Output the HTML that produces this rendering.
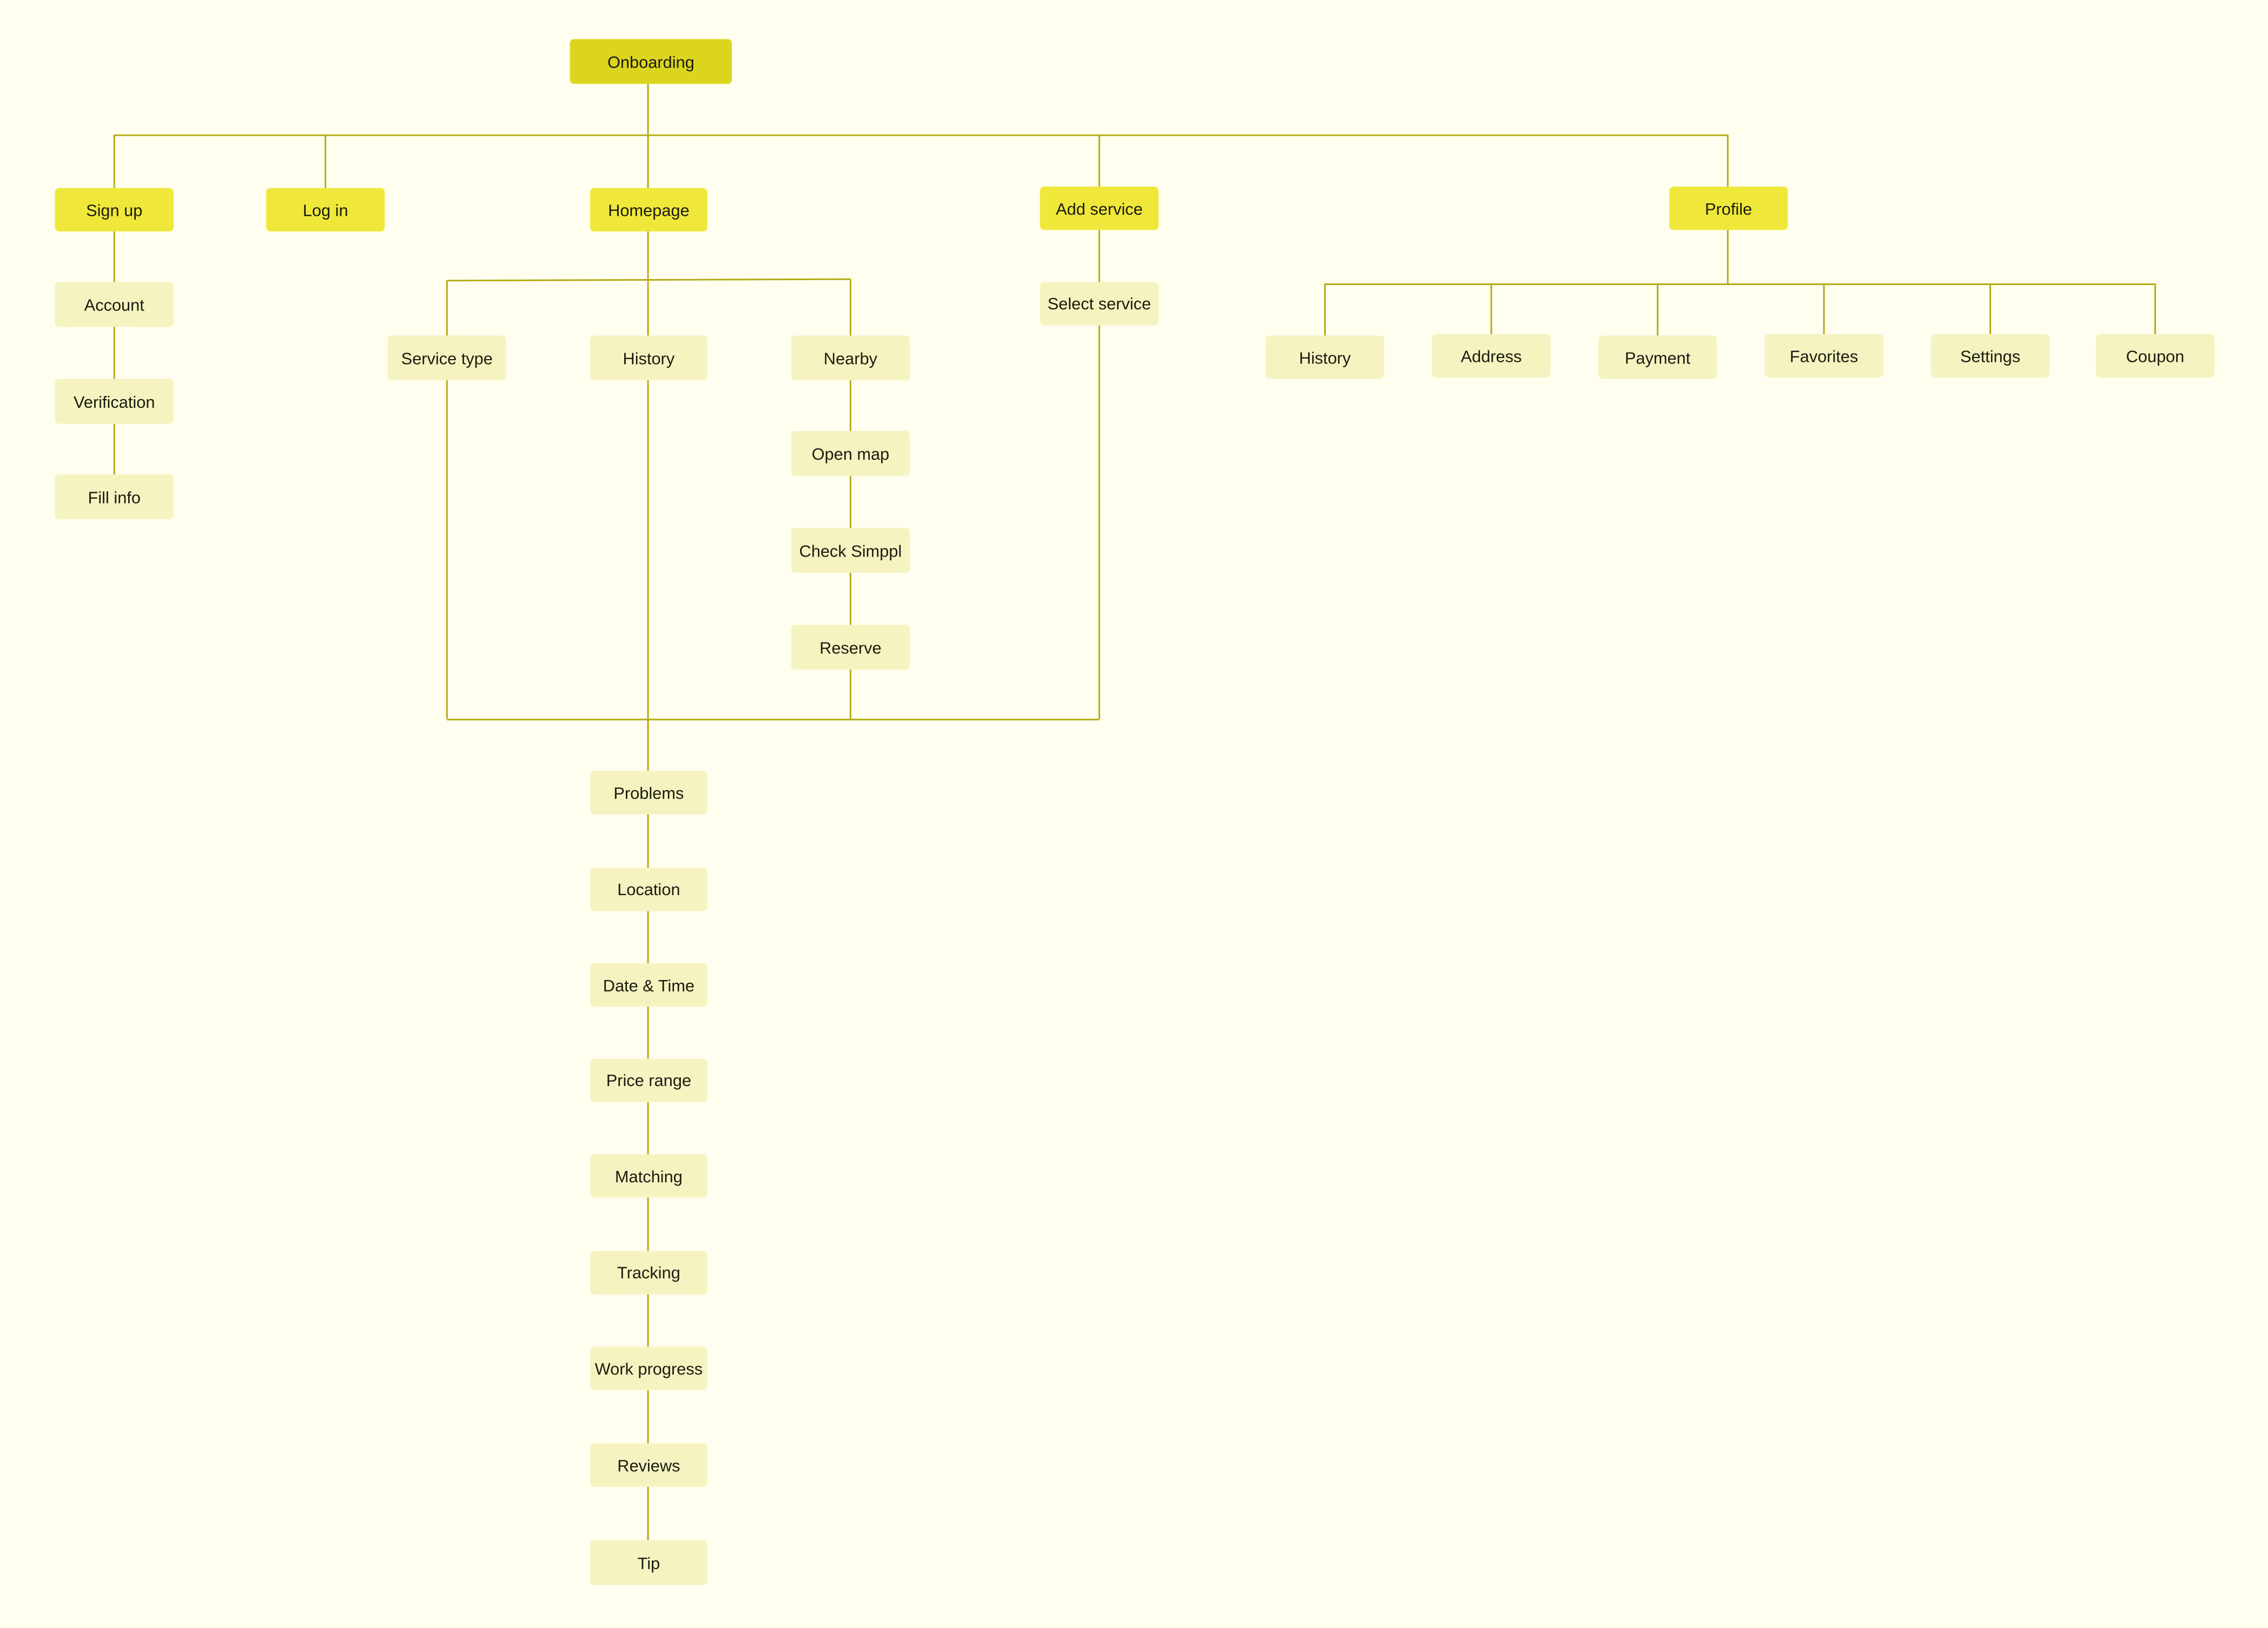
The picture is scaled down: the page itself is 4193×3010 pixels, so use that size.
<!DOCTYPE html>
<html><head><meta charset="utf-8"><style>
html,body{margin:0;padding:0;background:#fffeef;}
svg{display:block}
text{font-family:"Liberation Sans",sans-serif;font-size:11.5px;fill:#1b1b10;text-anchor:middle;dominant-baseline:central}
</style></head><body>
<svg width="4193" height="3010" viewBox="0 0 1568 1125.6" xmlns="http://www.w3.org/2000/svg">
<rect width="1568" height="1126" fill="#fffeef"/>
<g stroke="#b3aa12" stroke-width="1.1" fill="none">
<line x1="448" y1="58" x2="448" y2="130"/>
<line x1="79" y1="93.5" x2="1194.5" y2="93.5"/>
<line x1="79" y1="93" x2="79" y2="130"/>
<line x1="225" y1="93" x2="225" y2="130"/>
<line x1="760" y1="93" x2="760" y2="129"/>
<line x1="1194.5" y1="93" x2="1194.5" y2="129"/>
<line x1="79" y1="160" x2="79" y2="328"/>
<line x1="448" y1="160" x2="448" y2="533"/>
<line x1="309" y1="194" x2="588" y2="193"/>
<line x1="309" y1="194" x2="309" y2="497"/>
<line x1="588" y1="193" x2="588" y2="497"/>
<line x1="760" y1="159" x2="760" y2="497"/>
<line x1="309" y1="497.5" x2="760" y2="497.5"/>
<line x1="448" y1="533" x2="448" y2="1065"/>
<line x1="1194.5" y1="159" x2="1194.5" y2="196"/>
<line x1="916" y1="196.5" x2="1490" y2="196.5"/>
<line x1="916" y1="196" x2="916" y2="232"/>
<line x1="1031" y1="196" x2="1031" y2="232"/>
<line x1="1146" y1="196" x2="1146" y2="232"/>
<line x1="1261" y1="196" x2="1261" y2="232"/>
<line x1="1376" y1="196" x2="1376" y2="232"/>
<line x1="1490" y1="196" x2="1490" y2="232"/>
</g>
<g>
<rect x="394" y="27" width="112" height="31" rx="3" fill="#dcd520"/><text x="450" y="43">Onboarding</text>
<rect x="38" y="130" width="82" height="30" rx="3" fill="#efe83a"/><text x="79" y="145.5">Sign up</text>
<rect x="184" y="130" width="82" height="30" rx="3" fill="#efe83a"/><text x="225" y="145.5">Log in</text>
<rect x="408" y="130" width="81" height="30" rx="3" fill="#efe83a"/><text x="448.5" y="145.5">Homepage</text>
<rect x="719" y="129" width="82" height="30" rx="3" fill="#efe83a"/><text x="760" y="144.5">Add service</text>
<rect x="1154" y="129" width="82" height="30" rx="3" fill="#efe83a"/><text x="1195" y="144.5">Profile</text>
</g>
<g fill="#f5f3c0">
<rect x="38" y="195" width="82" height="31" rx="3"/>
<rect x="38" y="262" width="82" height="31" rx="3"/>
<rect x="38" y="328" width="82" height="31" rx="3"/>
<rect x="268" y="232" width="82" height="31" rx="3"/>
<rect x="408" y="232" width="81" height="31" rx="3"/>
<rect x="547" y="232" width="82" height="31" rx="3"/>
<rect x="547" y="298" width="82" height="31" rx="3"/>
<rect x="547" y="365" width="82" height="31" rx="3"/>
<rect x="547" y="432" width="82" height="31" rx="3"/>
<rect x="719" y="195" width="82" height="30" rx="3"/>
<rect x="408" y="533" width="81" height="30" rx="3"/>
<rect x="408" y="600" width="81" height="30" rx="3"/>
<rect x="408" y="666" width="81" height="30" rx="3"/>
<rect x="408" y="732" width="81" height="30" rx="3"/>
<rect x="408" y="798" width="81" height="30" rx="3"/>
<rect x="408" y="865" width="81" height="30" rx="3"/>
<rect x="408" y="931" width="81" height="30" rx="3"/>
<rect x="408" y="998" width="81" height="30" rx="3"/>
<rect x="408" y="1065" width="81" height="31" rx="3"/>
<rect x="875" y="232" width="82" height="30" rx="3"/>
<rect x="990" y="231" width="82" height="30" rx="3"/>
<rect x="1105" y="232" width="82" height="30" rx="3"/>
<rect x="1220" y="231" width="82" height="30" rx="3"/>
<rect x="1335" y="231" width="82" height="30" rx="3"/>
<rect x="1449" y="231" width="82" height="30" rx="3"/>
</g>
<g>
<text x="79" y="211">Account</text>
<text x="79" y="278">Verification</text>
<text x="79" y="344">Fill info</text>
<text x="309" y="248">Service type</text>
<text x="448.5" y="248">History</text>
<text x="588" y="248">Nearby</text>
<text x="588" y="314">Open map</text>
<text x="588" y="381">Check Simppl</text>
<text x="588" y="448">Reserve</text>
<text x="760" y="210">Select service</text>
<text x="448.5" y="548.5">Problems</text>
<text x="448.5" y="615">Location</text>
<text x="448.5" y="681.5">Date &amp; Time</text>
<text x="448.5" y="747">Price range</text>
<text x="448.5" y="813.5">Matching</text>
<text x="448.5" y="880">Tracking</text>
<text x="448.5" y="946.5">Work progress</text>
<text x="448.5" y="1013.5">Reviews</text>
<text x="448.5" y="1081">Tip</text>
<text x="916" y="247.5">History</text>
<text x="1031" y="246.5">Address</text>
<text x="1146" y="247.5">Payment</text>
<text x="1261" y="246.5">Favorites</text>
<text x="1376" y="246.5">Settings</text>
<text x="1490" y="246.5">Coupon</text>
</g>
</svg>
</body></html>
